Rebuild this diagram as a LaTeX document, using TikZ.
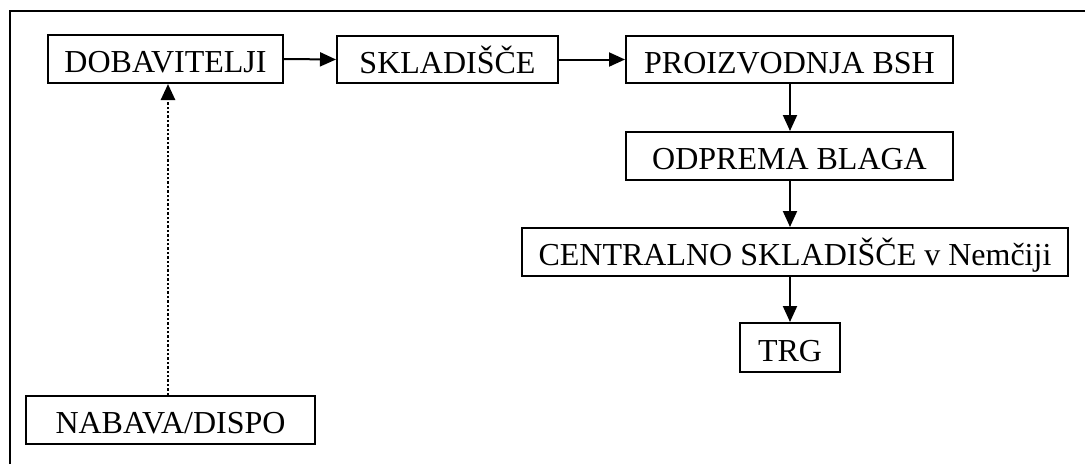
\documentclass[tikz,border=0pt]{standalone}
\usepackage{fontspec}
\setmainfont{Liberation Serif}
\usetikzlibrary{arrows.meta}

\begin{document}
\begin{tikzpicture}[x=1pt,y=-1pt,
  stepbox/.style={draw=black, line width=2pt, rectangle, inner sep=0pt,
    font=\fontsize{32}{38}\selectfont, text height=29pt, text depth=2pt},
  flow/.style={line width=2pt, -{Triangle[length=16pt,width=14pt]}},
  planflow/.style={line width=2.6pt, dash pattern=on 2.4pt off 2pt,
    -{Triangle[length=16pt,width=14pt]}}]
  \useasboundingbox (0,0) rectangle (1085,464);

  % open frame: top and left border only
  \draw[line width=2.2pt] (9.8,464) -- (9.8,10.8) -- (1085,10.8);

  % process boxes
  \node[stepbox, minimum width=235pt, minimum height=48pt] (dob) at (165.5,59) {DOBAVITELJI};
  \node[stepbox, minimum width=221pt, minimum height=47pt] (skl) at (447.5,59.5) {SKLADIŠČE};
  \node[stepbox, minimum width=327pt, minimum height=47pt] (pro) at (789.5,59.5) {PROIZVODNJA BSH};
  \node[stepbox, minimum width=546pt, minimum height=48pt] (cen) at (795,252) {CENTRALNO SKLADIŠČE v Nemčiji};
  \node[stepbox, minimum width=327pt, minimum height=48pt] (odp) at (789.5,156) {ODPREMA BLAGA};
  \node[stepbox, minimum width=100pt, minimum height=49pt] (trg) at (790,347.5) {TRG};
  \node[stepbox, minimum width=289pt, minimum height=48pt] (nab) at (170.5,420) {NABAVA/DISPO};

  % material flow
  \draw[flow] (dob.east) -- (skl.west);
  \draw[flow] (skl.east) -- (pro.west);
  \draw[flow] (pro.south -| 790,0) -- (odp.north -| 790,0);
  \draw[flow] (odp.south -| 790,0) -- (cen.north -| 790,0);
  \draw[flow] (cen.south -| 790,0) -- (trg.north);

  % planning link
  \draw[planflow] (nab.north -| 168,0) -- (dob.south -| 168,0);
\end{tikzpicture}
\end{document}
